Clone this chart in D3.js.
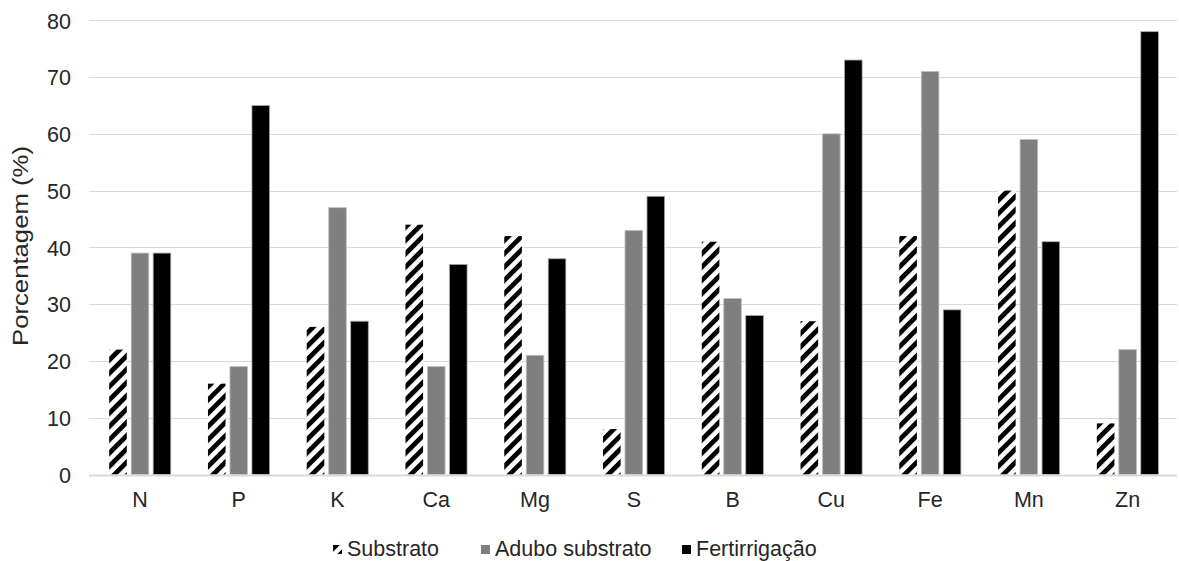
<!DOCTYPE html>
<html><head><meta charset="utf-8">
<script src="https://cdn.jsdelivr.net/npm/d3@7"></script>
<style>body{margin:0;background:#fff}svg{display:block}text{font-family:"Liberation Sans",Arial,sans-serif;fill:#262626}</style>
</head><body><svg id="c" width="1179" height="561"></svg>
<script>
const categories = ["N","P","K","Ca","Mg","S","B","Cu","Fe","Mn","Zn"];
const seriesNames = ["Substrato","Adubo substrato","Fertirrigação"];
const substrato = [22,16,26,44,42,8,41,27,42,50,9];
const aduboSubstrato = [39,19,47,19,21,43,31,60,71,59,22];
const fertirrigacao = [39,65,27,37,38,49,28,73,29,41,78];
const yTicks = [0,10,20,30,40,50,60,70,80];
const seriesValues = [substrato, aduboSubstrato, fertirrigacao];

const svg = d3.select("#c");
const defs = svg.append("defs");
const pat = defs.append("pattern").attr("id","hatch").attr("patternUnits","userSpaceOnUse")
  .attr("width",9.4).attr("height",10).attr("patternTransform","rotate(45)");
pat.append("rect").attr("width",9.4).attr("height",10).attr("fill","#fff");
pat.append("rect").attr("x",0).attr("width",4.8).attr("height",10).attr("fill","#000");

const fills = ["url(#hatch)","#7f7f7f","#000"];
const strokes = ["none","#bfbfbf","#a6a6a6"];

const x0 = d3.scaleBand().domain(categories).range([90.6,1177]).paddingInner(0.332).paddingOuter(0.166);
const x1 = d3.scaleBand().domain(d3.range(3)).range([0,x0.bandwidth()]).paddingInner(0.2).paddingOuter(0.1);
const y = d3.scaleLinear().domain([0,80]).range([474.5,20.3]);

const yAxis = d3.axisLeft(y).tickValues(yTicks).tickSize(0).tickPadding(0);
const gy = svg.append("g").attr("transform","translate(71,0)").call(yAxis);
gy.select(".domain").remove();
gy.selectAll("text").attr("font-size",21.5).attr("fill","#262626").attr("dy","0.36em")
  .style("font-family","'Liberation Sans',Arial,sans-serif");

svg.append("g").selectAll("line").data(yTicks.filter(d=>d>0)).join("line")
  .attr("x1",89).attr("x2",1177).attr("y1",d=>Math.round(y(d))+0.5).attr("y2",d=>Math.round(y(d))+0.5)
  .attr("stroke","#d9d9d9").attr("stroke-width",1);

const groups = svg.append("g").selectAll("g").data(categories).join("g")
  .attr("transform",d=>`translate(${x0(d)},0)`);
groups.selectAll("rect").data((d,i)=>seriesValues.map((s,k)=>({k,v:s[i]}))).join("rect")
  .attr("x",d=>x1(d.k)).attr("width",x1.bandwidth())
  .attr("y",d=>y(d.v)).attr("height",d=>y(0)-y(d.v))
  .attr("fill",d=>fills[d.k]).attr("stroke",d=>strokes[d.k]).attr("stroke-width",0.8);

svg.append("line").attr("x1",89).attr("x2",1177).attr("y1",y(0)+1).attr("y2",y(0)+1)
  .attr("stroke","#d9d9d9").attr("stroke-width",2);

const xAxis = d3.axisBottom(x0).tickSize(0).tickPadding(0);
const gx = svg.append("g").attr("transform","translate(0,507)").call(xAxis);
gx.select(".domain").remove();
gx.selectAll("text").attr("font-size",21.5).attr("fill","#262626").attr("dy",0)
  .style("font-family","'Liberation Sans',Arial,sans-serif");

svg.append("text").attr("transform","translate(28,246) rotate(-90)").attr("text-anchor","middle")
  .attr("font-size",22).attr("textLength",200).attr("lengthAdjust","spacingAndGlyphs")
  .text("Porcentagem (%)");

const legX = [333,481,682];
const leg = svg.append("g").selectAll("g").data(seriesNames).join("g")
  .attr("transform",(d,i)=>`translate(${legX[i]},0)`);
leg.append("rect").attr("x",0).attr("y",545).attr("width",9).attr("height",9)
  .attr("fill",(d,i)=>fills[i]);
leg.append("text").attr("x",14).attr("y",556).attr("font-size",21.5).text(d=>d);
</script></body></html>
